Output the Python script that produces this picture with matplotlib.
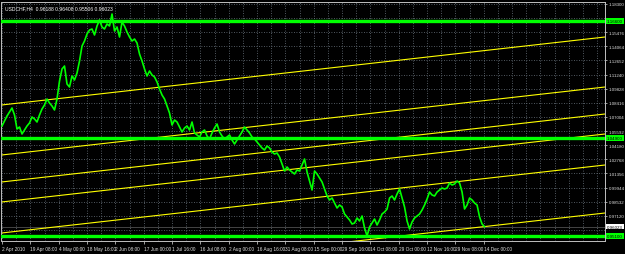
import numpy as np
import matplotlib
matplotlib.use("Agg")
import matplotlib.pyplot as plt

plt.rcParams["font.family"] = ["Liberation Sans", "DejaVu Sans"]

# ---------------- data ----------------
symbol_header = "USDCHF,H4  0.96188 0.96408 0.95506 0.96023"

# daily-sampled closes (one value every 6 H4 bars)
closes = [
    1.061, 1.066, 1.071, 1.075, 1.079, 1.072, 1.058, 1.060, 1.053, 1.057,
    1.061, 1.064, 1.070, 1.068, 1.065, 1.072, 1.078, 1.082, 1.088, 1.084,
    1.081, 1.077, 1.088, 1.106, 1.118, 1.121, 1.103, 1.100, 1.111, 1.107,
    1.114, 1.126, 1.141, 1.146, 1.153, 1.157, 1.158, 1.152, 1.161, 1.167,
    1.160, 1.158, 1.163, 1.161, 1.173, 1.156, 1.160, 1.150, 1.165, 1.161,
    1.155, 1.150, 1.146, 1.148, 1.144, 1.133, 1.126, 1.118, 1.111, 1.116,
    1.112, 1.110, 1.105, 1.098, 1.092, 1.088, 1.081, 1.074, 1.062, 1.067,
    1.065, 1.060, 1.055, 1.059, 1.061, 1.057, 1.065, 1.054, 1.052, 1.050,
    1.055, 1.057, 1.051, 1.048, 1.054, 1.059, 1.063, 1.055, 1.051, 1.048,
    1.050, 1.052, 1.047, 1.043, 1.047, 1.051, 1.055, 1.060, 1.057, 1.054,
    1.050, 1.048, 1.045, 1.042, 1.039, 1.037, 1.041, 1.039, 1.035, 1.033,
    1.034, 1.030, 1.023, 1.016, 1.020, 1.017, 1.015, 1.013, 1.017, 1.016,
    1.022, 1.028, 1.015, 1.006, 0.997, 1.016, 1.013, 1.009, 1.005, 0.998,
    0.991, 0.987, 0.989, 0.984, 0.979, 0.982, 0.980, 0.973, 0.970, 0.967,
    0.963, 0.964, 0.969, 0.966, 0.971, 0.959, 0.951, 0.960, 0.964, 0.968,
    0.962, 0.967, 0.973, 0.975, 0.978, 0.989, 0.991, 0.987, 0.993, 0.998,
    0.989, 0.980, 0.966, 0.958, 0.965, 0.969, 0.971, 0.973, 0.977, 0.982,
    0.988, 0.995, 0.992, 0.991, 0.995, 0.997, 0.999, 0.998, 0.999, 1.004,
    1.002, 1.003, 1.006, 1.004, 0.995, 0.978, 0.982, 0.989, 0.987, 0.984,
    0.982, 0.970, 0.963, 0.96023,
]
bars_per_sample = 6

# horizontal support / resistance levels
h_levels = [1.16600, 1.04900, 0.95100]
current_price = 0.96023

# parallel trend channel lines: price at chart left / chart right
chan_left = [1.0820, 1.0320, 1.0050, 0.9850, 0.9540, 0.9060]
chan_right = [1.1500, 1.1000, 1.0730, 1.0530, 1.0220, 0.9740]

# time axis labels (every 68 H4 bars)
time_labels = ["2 Apr 2010", "19 Apr 08:00", "4 May 00:00", "18 May 16:00",
               "2 Jun 08:00", "17 Jun 00:00", "1 Jul 16:00", "16 Jul 08:00",
               "2 Aug 00:00", "16 Aug 16:00", "31 Aug 08:00", "15 Sep 00:00",
               "29 Sep 16:00", "14 Oct 08:00", "29 Oct 00:00", "12 Nov 16:00",
               "29 Nov 08:00", "14 Dec 00:00"]
bars_per_label = 68

# price axis labels
price_ticks = [1.18300, 1.15476, 1.14064, 1.12652, 1.11240,
               1.09828, 1.08416, 1.07004, 1.05592, 1.04180, 1.02768,
               1.01356, 0.99944, 0.98532, 0.97120]
grid_prices = [1.18300, 1.16888, 1.15476, 1.14064, 1.12652, 1.11240,
               1.09828, 1.08416, 1.07004, 1.05592, 1.04180, 1.02768,
               1.01356, 0.99944, 0.98532, 0.97120, 0.95708]

x_min, x_max = -1.2, 1447
y_min, y_max = 0.946, 1.185

# ---------------- figure ----------------
W, H = 625, 255
fig = plt.figure(figsize=(W / 100, H / 100), dpi=100, facecolor="black")
ax = fig.add_axes([1.5 / W, 13 / H, 603.5 / W, 239 / H], facecolor="black")
ax.set_xlim(x_min, x_max)
ax.set_ylim(y_min, y_max)

# grid
grid_kw = dict(color="#6c7680", lw=0.6, ls=(0, (1, 2)), zorder=0)
for k in range(0, int(x_max) + 1, bars_per_label // 2):
    ax.axvline(k, **grid_kw)
for p in grid_prices:
    ax.axhline(p, **grid_kw)

# channel lines
for pl, pr in zip(chan_left, chan_right):
    ax.plot([x_min, x_max], [pl, pr], color="#FFFF00", lw=0.8, zorder=2)

# horizontal levels
for lv in h_levels:
    ax.axhline(lv, color="#00FF00", lw=2.4, zorder=3)

# current price line
ax.axhline(current_price, color="#505050", lw=0.6, zorder=1)

# price line
xs = np.arange(len(closes)) * bars_per_sample
ax.plot(xs, closes, color="#00FF00", lw=1.2, zorder=4)

# axes style
for s in ax.spines.values():
    s.set_color("#c0c0c0")
    s.set_linewidth(0.7)

ax.yaxis.tick_right()
ax.set_yticks(price_ticks)
ax.set_yticklabels([f"{p:.5f}" for p in price_ticks])
ax.tick_params(axis="y", colors="#e0e0e0", labelsize=3.2, length=1.5, width=0.5, pad=1)

tick_pos = [i * bars_per_label for i in range(len(time_labels))]
ax.set_xticks(tick_pos)
ax.set_xticklabels(time_labels, ha="left")
ax.tick_params(axis="x", colors="#e0e0e0", labelsize=3.4, length=2, width=0.5, pad=1.5)

# right-axis markers for levels
for lv in h_levels:
    ax.annotate(f"{lv:.5f}", xy=(1.0, lv), xycoords=("axes fraction", "data"),
                xytext=(1.5, 0), textcoords="offset points", va="center", ha="left",
                fontsize=3.2, color="black",
                bbox=dict(boxstyle="square,pad=0.15", fc="#00FF00", ec="none"),
                annotation_clip=False, zorder=10)
ax.annotate(f"{current_price:.5f}", xy=(1.0, current_price),
            xycoords=("axes fraction", "data"), xytext=(1.5, 0),
            textcoords="offset points", va="center", ha="left", fontsize=3.2,
            color="black", bbox=dict(boxstyle="square,pad=0.15", fc="white", ec="none"),
            annotation_clip=False, zorder=10)

fig.text(5 / W, 1 - 9 / H, symbol_header, color="white", fontsize=3.6, ha="left", va="center")

fig.savefig("out.png", dpi=100, facecolor="black")
